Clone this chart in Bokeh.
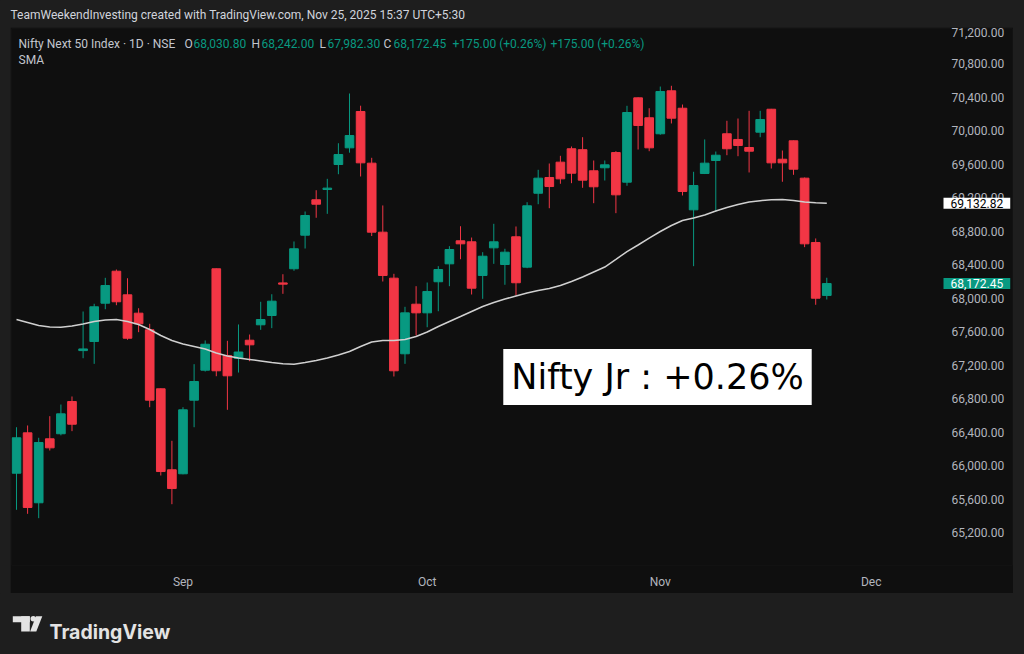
from bokeh.plotting import figure
from bokeh.models import Range1d, FixedTicker, NumeralTickFormatter, Label, ColumnDataSource, Spacer
from bokeh.layouts import column, row
from bokeh.embed import file_html
from bokeh.resources import INLINE
from bokeh.core.properties import value

# ---------------- data (Nifty Next 50, daily, 7 Aug - 25 Nov 2025) ----------------
opens = [65908, 66390, 65555, 66319, 66379, 66764, 67372, 67481, 67938, 68320,
         68038, 67819, 67620, 66916, 65949, 65901, 66780, 67138, 68349, 67313,
         67278, 67496, 67680, 67791, 68180, 68349, 68750, 69173, 69296, 69594,
         69793, 70227, 69610, 68786, 68237, 67334, 67926, 67823, 68194, 68408,
         68683, 68671, 68269, 68599, 68400, 68731, 68368, 69251, 69439, 69622,
         69782, 69771, 69519, 69555, 69737, 69383, 70390, 70152, 69961, 70474,
         70266, 69053, 69487, 69642, 69961, 69893, 69797, 69980, 70254, 69657,
         69877, 69431, 68663, 68030.80]
highs = [66457, 66478, 66331, 66589, 66728, 66824, 67839, 67931, 68241, 68340,
         68236, 67878, 67692, 66920, 66295, 66696, 67210, 67493, 68352, 67489,
         67684, 67564, 67955, 68045, 68284, 68675, 69033, 69287, 69423, 69848,
         70442, 70296, 69674, 69105, 68289, 67895, 68141, 68185, 68380, 68619,
         68857, 68722, 68547, 68886, 68588, 68854, 69144, 69531, 69606, 69698,
         69809, 69920, 69642, 69642, 69753, 70295, 70395, 70266, 70525, 70534,
         70310, 69507, 69893, 69749, 70116, 70143, 70235, 70235, 70258, 69761,
         69880, 69439, 68711, 68242.00]
lows = [65471, 65423, 65371, 66179, 66360, 66410, 67281, 67214, 67866, 67914,
        67501, 67592, 66696, 65881, 65538, 65895, 66457, 67122, 67066, 66665,
        67110, 67245, 67620, 67640, 68050, 68325, 68591, 68958, 69005, 69478,
        69735, 69451, 68740, 68197, 67063, 67214, 67552, 67651, 67842, 68141,
        68463, 68042, 67990, 68408, 68158, 68030, 68356, 69120, 69072, 69364,
        69371, 69316, 69132, 69403, 69013, 69340, 69773, 69753, 69949, 70084,
        69224, 68380, 69480, 69033, 69705, 69693, 69499, 69920, 69546, 69388,
        69471, 68607, 67919, 67982.30]
closes = [66331, 65499, 66275, 66211, 66617, 66493, 67392, 67895, 68149, 67955,
          67520, 67692, 66780, 65928, 65725, 66665, 67003, 67448, 67131, 67071,
          67355, 67441, 67743, 67962, 68165, 68588, 68985, 69120, 69312, 69713,
          69940, 69614, 68786, 68269, 67131, 67823, 67823, 68078, 68340, 68579,
          68647, 68117, 68499, 68671, 68547, 68182, 69101, 69431, 69331, 69423,
          69490, 69407, 69328, 69590, 69232, 70215, 70060, 69793, 70466, 70147,
          69272, 69343, 69610, 69705, 69782, 69821, 69753, 70131, 69614, 69614,
          69538, 68647, 67997.45, 68172.45]
sma = [67743, 67708, 67672, 67654, 67652, 67666, 67690, 67720, 67737, 67743,
       67720, 67684, 67624, 67552, 67493, 67451, 67421, 67391, 67343, 67308,
       67284, 67266, 67248, 67230, 67214, 67210, 67230, 67254, 67284, 67319,
       67361, 67421, 67475, 67493, 67493, 67505, 67540, 67594, 67660, 67720,
       67779, 67839, 67899, 67946, 67988, 68024, 68060, 68090, 68114, 68149,
       68197, 68251, 68311, 68370, 68460, 68555, 68633, 68716, 68794, 68866,
       68925, 68955, 68991, 69039, 69081, 69117, 69146, 69162, 69174, 69176,
       69164, 69145, 69138, 69132.82]
month_ticks = [15, 37, 58, 77]
month_labels = ["Sep", "Oct", "Nov", "Dec"]
price_ticks = list(range(65200, 71201, 400))

HEADER = "TeamWeekendInvesting created with TradingView.com, Nov 25, 2025 15:37 UTC+5:30"
SYMBOL = "Nifty Next 50 Index \u00b7 1D \u00b7 NSE"

# ---------------- style ----------------
BG_OUT = "#1e1e1e"
BG = "#0f0f0f"
UP = "#089981"
DOWN = "#f23645"
TXT = "#b2b5be"
LEG = "#c3c6ce"
FONT = "Roboto"
PAGE_W = 1024

n = len(opens)
idx = list(range(n))
colors = [UP if c >= o else DOWN for o, c in zip(opens, closes)]
src = ColumnDataSource(dict(
    x=idx, high=highs, low=lows,
    top=[max(o, c) for o, c in zip(opens, closes)],
    bottom=[min(o, c) for o, c in zip(opens, closes)],
    color=colors))

# ---------------- header strip ----------------
hdr = figure(width=PAGE_W, height=27, x_range=Range1d(0, PAGE_W), y_range=Range1d(27, 0),
             toolbar_location=None, output_backend="svg", x_axis_type=None, y_axis_type=None,
             min_border=0, background_fill_color=BG_OUT, border_fill_color=BG_OUT,
             outline_line_color=None)
hdr.text(x=[10], y=[14.5], text=[HEADER], text_font=value(FONT), text_font_size="12px",
         text_color="#d1d4dc", text_baseline="middle", text_align="left")

# ---------------- main chart panel ----------------
# frame spans the whole panel width; the price scale is drawn over its right strip
p = figure(width=1003, height=566, x_range=Range1d(-0.45, 89.73), y_range=Range1d(64806, 71218),
           toolbar_location=None, output_backend="svg", y_axis_location="right",
           min_border_left=1, min_border_right=1, min_border_top=1, min_border_bottom=28,
           background_fill_color=BG, border_fill_color=BG, outline_line_color=None)
p.grid.visible = False

p.segment(x0="x", y0="low", x1="x", y1="high", line_color="color", line_width=1, source=src)
p.vbar(x="x", top="top", bottom="bottom", width=0.78, fill_color="color",
       line_color="color", line_width=1, source=src)
p.line(idx, sma, line_color="#d0d0d0", line_width=1.5)

FR_LEFT, FR_RIGHT, FR_BOTTOM = 11, 1012, 565  # page coordinates of the frame

ya = p.yaxis[0]
ya.ticker = FixedTicker(ticks=price_ticks)
ya.formatter = NumeralTickFormatter(format="0,0.00")
ya.axis_line_color = None
ya.major_tick_line_color = None
ya.minor_tick_line_color = None
ya.major_tick_out = 0
ya.major_tick_in = 0
ya.major_label_standoff = 951 - FR_RIGHT
ya.major_label_text_color = TXT
ya.major_label_text_font = FONT
ya.major_label_text_font_size = "12px"

xa = p.xaxis[0]
xa.ticker = FixedTicker(ticks=month_ticks)
xa.major_label_overrides = {t: l for t, l in zip(month_ticks, month_labels)}
xa.axis_line_color = None
xa.major_tick_line_color = None
xa.minor_tick_line_color = None
xa.major_tick_out = 0
xa.major_label_standoff = 9
xa.major_label_text_color = TXT
xa.major_label_text_font = FONT
xa.major_label_text_font_size = "12px"


def screen_label(text, px, py, color, size="12px", font=FONT, **kw):
    p.add_layout(Label(x=px - FR_LEFT, y=FR_BOTTOM - py, x_units="screen", y_units="screen",
                       text=text, text_color=color, text_font=font, text_font_size=size,
                       text_baseline="middle", **kw))


chg = closes[-1] - closes[-2]
pct = chg / closes[-2] * 100
chg_txt = f"{chg:+,.2f} ({pct:+.2f}%)"
legend_items = [
    (SYMBOL, 18, LEG), ("O", 184, LEG), (f"{opens[-1]:,.2f}", 193, UP),
    ("H", 251, LEG), (f"{highs[-1]:,.2f}", 261, UP),
    ("L", 319, LEG), (f"{lows[-1]:,.2f}", 327, UP),
    ("C", 383, LEG), (f"{closes[-1]:,.2f}", 393, UP),
    (chg_txt, 452, UP), (chg_txt, 550, UP),
]
for t, x, c in legend_items:
    screen_label(t, x, 43, c)
screen_label("SMA", 18, 59, LEG)

# big annotation box
screen_label(f"Nifty Jr : {pct:+.2f}%", 657, 376.5, "#000000", size="35px", font="DejaVu Sans",
             text_align="center", background_fill_color="#ffffff", padding=(8, 8))

# price tags on the price scale (last SMA value and last close)
for val, fg, bg in [(sma[-1], "#000000", "#ffffff"), (closes[-1], "#ffffff", UP)]:
    p.add_layout(Label(x=943 - FR_LEFT, y=val, x_units="screen", y_units="data",
                       text=f"{val:,.2f}", text_color=fg, text_font=FONT, text_font_size="12px",
                       text_baseline="middle", text_align="left",
                       background_fill_color=bg, padding=(7, 1)))

# ---------------- footer with logo ----------------
ftr = figure(width=PAGE_W, height=61, x_range=Range1d(0, PAGE_W), y_range=Range1d(61, 0),
             toolbar_location=None, output_backend="svg", x_axis_type=None, y_axis_type=None,
             min_border=0, background_fill_color=BG_OUT, border_fill_color=BG_OUT,
             outline_line_color=None)
LOGO = "#e3e3e3"
ftr.quad(left=[12.3, 20.7], right=[29.3, 29.3], top=[22.7, 22.7], bottom=[28.7, 38],
         fill_color=LOGO, line_color=None)
ftr.circle(x=[32.8], y=[25.3], radius=2.8, fill_color=LOGO, line_color=None)
ftr.patch(x=[35.5, 41.8, 35.8, 29.6], y=[22.7, 22.7, 38, 38], fill_color=LOGO, line_color=None)
ftr.text(x=[49], y=[38], text=["TradingView"], text_font=value("Inter"), text_font_size="19.5px",
         text_font_style="bold", text_color=LOGO, text_baseline="alphabetic")

panel = row(Spacer(width=10, height=566), p, Spacer(width=11, height=566), spacing=0)
layout = column(hdr, panel, ftr, spacing=0)

html = file_html(layout, INLINE)
html = html.replace("</head>", "<style>html, body { background: #1e1e1e; }</style></head>", 1)
open("out.html", "w").write(html)
